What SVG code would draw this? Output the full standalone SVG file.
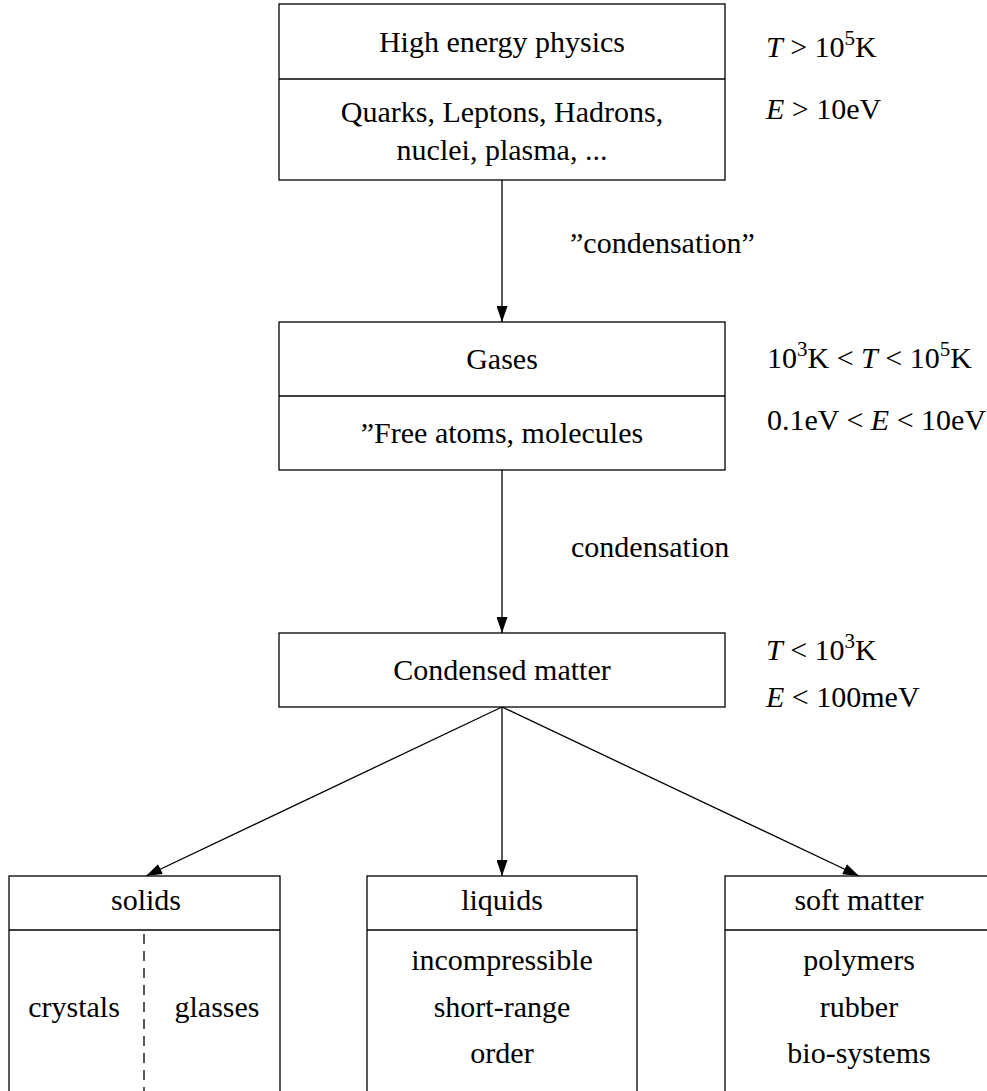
<svg xmlns="http://www.w3.org/2000/svg" width="987" height="1091" viewBox="0 0 987 1091">
<style>
.box{fill:#fff;stroke:#000;stroke-width:1.3}
.div{stroke:#000;stroke-width:1.3;fill:none}
.t{font-family:'Liberation Serif','DejaVu Serif',serif;font-size:30px;fill:#000}
.c{text-anchor:middle}
.i{font-style:italic}
.sup{font-size:21px}
.conn{stroke:#000;stroke-width:1.3;fill:none}
</style>
<defs>
<marker id="ah" markerUnits="userSpaceOnUse" markerWidth="16" markerHeight="11" viewBox="0 0 16 11" refX="16" refY="5.5" orient="auto">
<path d="M0,0 L16,5.5 L0,11 z" fill="#000"/>
</marker>
</defs>
<rect width="987" height="1091" fill="#fff"/>

<g id="connectors">
<line class="conn" x1="502" y1="180" x2="502" y2="322" marker-end="url(#ah)"/>
<line class="conn" x1="502" y1="470" x2="502" y2="633" marker-end="url(#ah)"/>
<line class="conn" x1="502" y1="707" x2="146" y2="876" marker-end="url(#ah)"/>
<line class="conn" x1="502" y1="707" x2="502" y2="876" marker-end="url(#ah)"/>
<line class="conn" x1="502" y1="707" x2="859" y2="876" marker-end="url(#ah)"/>
<text class="t" x="570" y="253">”condensation”</text>
<text class="t" x="571" y="557">condensation</text>
</g>

<g id="high-energy">
<rect class="box" x="279" y="4" width="446" height="176"/>
<line class="div" x1="279" y1="79" x2="725" y2="79"/>
<text class="t c" x="502" y="52">High energy physics</text>
<text class="t c" x="502" y="122">Quarks, Leptons, Hadrons,</text>
<text class="t c" x="502" y="160">nuclei, plasma, ...</text>
</g>

<g id="high-energy-range">
<text class="t" x="766" y="57"><tspan class="i">T</tspan> &gt; 10<tspan dy="-12" class="sup">5</tspan><tspan dy="12">K</tspan></text>
<text class="t" x="766" y="119"><tspan class="i">E</tspan> &gt; 10eV</text>
</g>

<g id="gases">
<rect class="box" x="279" y="322" width="446" height="148"/>
<line class="div" x1="279" y1="396" x2="725" y2="396"/>
<text class="t c" x="502" y="369">Gases</text>
<text class="t c" x="502" y="443">”Free atoms, molecules</text>
</g>

<g id="gases-range">
<text class="t" x="767" y="368">10<tspan dy="-12" class="sup">3</tspan><tspan dy="12">K &lt; </tspan><tspan class="i">T</tspan> &lt; 10<tspan dy="-12" class="sup">5</tspan><tspan dy="12">K</tspan></text>
<text class="t" x="767" y="430">0.1eV &lt; <tspan class="i">E</tspan> &lt; 10eV</text>
</g>

<g id="condensed">
<rect class="box" x="279" y="633" width="446" height="74"/>
<text class="t c" x="502" y="680">Condensed matter</text>
</g>

<g id="condensed-range">
<text class="t" x="766" y="660"><tspan class="i">T</tspan> &lt; 10<tspan dy="-12" class="sup">3</tspan><tspan dy="12">K</tspan></text>
<text class="t" x="766" y="707"><tspan class="i">E</tspan> &lt; 100meV</text>
</g>

<g id="solids">
<rect class="box" x="9" y="876" width="271" height="230"/>
<line class="div" x1="9" y1="930" x2="280" y2="930"/>
<line class="div" x1="144" y1="934" x2="144" y2="1095" stroke-dasharray="10,7"/>
<text class="t c" x="146" y="910">solids</text>
<text class="t c" x="74" y="1017">crystals</text>
<text class="t c" x="217" y="1017">glasses</text>
</g>

<g id="liquids">
<rect class="box" x="367" y="876" width="270" height="230"/>
<line class="div" x1="367" y1="930" x2="637" y2="930"/>
<text class="t c" x="502" y="910">liquids</text>
<text class="t c" x="502" y="970">incompressible</text>
<text class="t c" x="502" y="1017">short-range</text>
<text class="t c" x="502" y="1063">order</text>
</g>

<g id="soft-matter">
<rect class="box" x="725" y="876" width="270" height="230"/>
<line class="div" x1="725" y1="930" x2="995" y2="930"/>
<text class="t c" x="859" y="910">soft matter</text>
<text class="t c" x="859" y="970">polymers</text>
<text class="t c" x="859" y="1017">rubber</text>
<text class="t c" x="859" y="1063">bio-systems</text>
</g>
</svg>
